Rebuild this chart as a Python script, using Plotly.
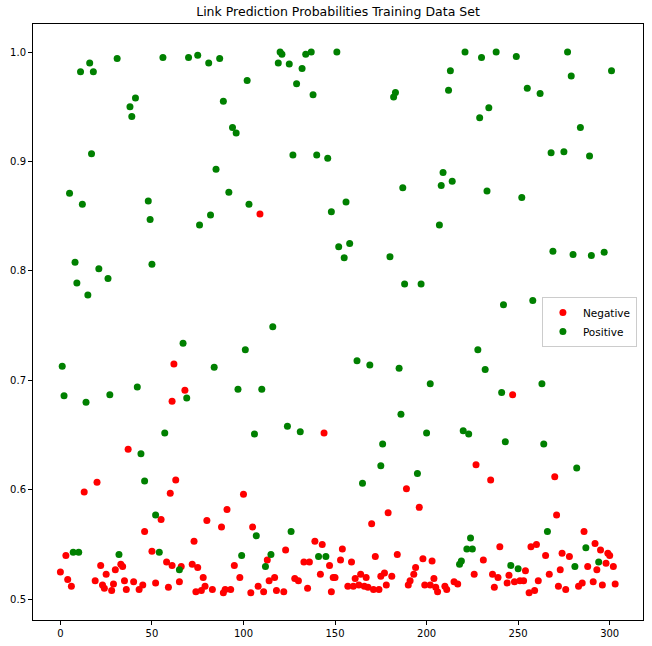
import plotly.graph_objects as go

# Negative (red) samples: index, predicted probability
neg_x = [62, 68, 61, 109, 144, 247,
         37, 20, 13, 63, 60, 55, 46, 50, 3, 0, 4, 6, 22, 25, 19, 23, 24, 28, 29, 30, 33, 34, 35, 36,
         40, 43, 45, 52, 58, 61, 59, 65, 66,
         100, 91, 80, 88, 105, 73, 123, 139, 143, 113, 133, 136, 72, 75, 95, 147, 142, 78, 98, 79,
         74, 77, 83, 89, 90, 93, 104, 108, 111, 114, 117, 118, 122, 128, 130, 135, 148, 149,
         226, 189, 196, 179, 170, 154, 153, 159, 172, 184, 198, 203, 150, 161, 164, 167, 157, 160,
         163, 166, 168, 171, 174, 175, 177, 181, 178, 194, 193, 191, 190, 204, 199, 202, 205, 206,
         210, 211, 215, 217, 227,
         235, 270, 271, 286, 240, 257, 260, 231, 265, 274, 278, 292, 295, 299, 300, 288, 293, 298,
         302, 236, 239, 245, 254, 267, 273, 237, 244, 248, 251, 253, 261, 256, 259, 272, 276, 283,
         285, 291, 296, 303]
neg_y = [0.715, 0.691, 0.681, 0.852, 0.652, 0.687,
         0.637, 0.607, 0.598, 0.609, 0.597, 0.573, 0.562, 0.544, 0.540, 0.525, 0.518, 0.512, 0.531,
         0.523, 0.517, 0.513, 0.510, 0.508, 0.514, 0.527, 0.532, 0.530, 0.517, 0.509,
         0.516, 0.509, 0.513, 0.515, 0.534, 0.531, 0.511, 0.516, 0.530,
         0.596, 0.582, 0.572, 0.566, 0.566, 0.553, 0.545, 0.553, 0.550, 0.536, 0.534, 0.534, 0.532,
         0.529, 0.531, 0.531, 0.523, 0.520, 0.520, 0.512,
         0.507, 0.508, 0.509, 0.506, 0.509, 0.509, 0.506, 0.512, 0.507, 0.517, 0.520, 0.508, 0.507,
         0.519, 0.517, 0.510, 0.507, 0.520,
         0.523, 0.601, 0.584, 0.579, 0.569, 0.546, 0.536, 0.534, 0.539, 0.541, 0.537, 0.535, 0.520,
         0.519, 0.523, 0.520, 0.512, 0.512,
         0.513, 0.512, 0.511, 0.509, 0.509, 0.521, 0.524, 0.521, 0.513, 0.529, 0.523, 0.517, 0.513,
         0.519, 0.513, 0.513, 0.511, 0.507,
         0.512, 0.509, 0.516, 0.514, 0.623,
         0.609, 0.612, 0.577, 0.562, 0.548, 0.548, 0.550, 0.536, 0.540, 0.542, 0.539, 0.551, 0.545,
         0.542, 0.540, 0.530, 0.527, 0.533,
         0.530, 0.523, 0.520, 0.522, 0.526, 0.523, 0.527, 0.511, 0.515, 0.516, 0.517, 0.517, 0.517,
         0.506, 0.508, 0.512, 0.509, 0.512,
         0.515, 0.516, 0.513, 0.514]

# Positive (green) samples: index, predicted probability
pos_x = [16, 11, 18, 31, 56, 41, 38, 39, 17, 5, 12, 48, 49, 8, 21, 9, 26, 15, 50, 67, 1, 2, 14,
         27, 42, 69, 57,
         70, 75, 81, 87, 120, 121, 119, 125, 134, 137, 132, 129, 138, 102, 89, 94, 96, 127, 140,
         146, 85, 92, 103, 82, 76, 148, 116, 101, 84, 97, 110, 106, 124, 131,
         151, 221, 213, 183, 182, 212, 209, 208, 214, 187, 156, 207, 158, 152, 155, 180, 188, 197,
         162, 169, 185, 202, 186, 200, 220, 223,
         230, 238, 249, 277, 301, 279, 255, 262, 234, 229, 284, 268, 275, 289, 233, 252, 269, 280,
         290, 297, 242, 258, 228, 232, 263, 241,
         44, 46, 52, 7, 10, 32, 54, 65,
         107, 126, 99, 115, 112, 141, 145,
         176, 175, 195, 165, 224, 222, 225, 219, 218,
         243, 264, 282, 266, 287, 246, 250, 281, 294]
pos_y = [0.990, 0.982, 0.982, 0.994, 0.995, 0.958, 0.950, 0.941, 0.907, 0.871, 0.861, 0.864, 0.847,
         0.808, 0.802, 0.789, 0.793, 0.778, 0.806, 0.734, 0.713, 0.686, 0.680, 0.687, 0.694, 0.684,
         0.652,
         0.995, 0.997, 0.990, 0.994, 1.000, 0.998, 0.990, 0.989, 0.998, 1.000, 0.985, 0.971, 0.961,
         0.974, 0.955, 0.931, 0.926, 0.906, 0.906, 0.903, 0.893, 0.872, 0.861, 0.851, 0.842, 0.854,
         0.749, 0.728, 0.712, 0.692, 0.692, 0.651, 0.658, 0.653,
         1.000, 1.000, 0.983, 0.963, 0.959, 0.965, 0.890, 0.878, 0.882, 0.876, 0.863, 0.842, 0.825,
         0.822, 0.812, 0.813, 0.788, 0.788, 0.718, 0.714, 0.711, 0.697, 0.669, 0.652, 0.654, 0.651,
         0.995, 1.000, 0.996, 1.000, 0.983, 0.978, 0.967, 0.962, 0.949, 0.940, 0.931, 0.908, 0.909,
         0.905, 0.873, 0.867, 0.818, 0.815, 0.814, 0.817, 0.769, 0.773, 0.728, 0.710, 0.697, 0.689,
         0.633, 0.608, 0.577, 0.543, 0.543, 0.541, 0.543, 0.527,
         0.558, 0.562, 0.540, 0.541, 0.530, 0.539, 0.539,
         0.642, 0.622, 0.615, 0.606, 0.556, 0.546, 0.546, 0.535, 0.532,
         0.644, 0.642, 0.620, 0.562, 0.547, 0.531, 0.528, 0.530, 0.534]

title_text = "Link Prediction Probabilities Training Data Set"
x_ticks = [0, 50, 100, 150, 200, 250, 300]
y_ticks = [0.5, 0.6, 0.7, 0.8, 0.9, 1.0]

FONT = "DejaVu Sans"

fig = go.Figure()
fig.add_trace(go.Scatter(x=neg_x, y=neg_y, mode="markers", name="Negative",
                         marker=dict(color="#ff0000", size=7, line=dict(width=0))))
fig.add_trace(go.Scatter(x=pos_x, y=pos_y, mode="markers", name="Positive",
                         marker=dict(color="#008000", size=7, line=dict(width=0))))

axis_common = dict(showgrid=False, zeroline=False, showline=True, mirror=True,
                   linecolor="black", linewidth=1, ticks="outside", ticklen=4,
                   tickwidth=1, tickcolor="black", automargin=False,
                   tickfont=dict(family=FONT, size=10, color="black"))

fig.update_layout(
    width=652, height=646,
    margin=dict(l=33, r=9, t=24, b=26),
    paper_bgcolor="white", plot_bgcolor="white",
    font=dict(family=FONT, color="black"),
    title=dict(text=title_text, x=0.5, xref="paper", xanchor="center",
               y=1 - 12 / 646, yref="container", yanchor="middle",
               font=dict(family=FONT, size=12.5, color="black")),
    xaxis=dict(range=[-14.96, 318.2], tickvals=x_ticks, **axis_common),
    yaxis=dict(range=[0.4811, 1.0256], tickvals=y_ticks, tickformat=".1f", **axis_common),
    legend=dict(x=0.99, xanchor="right", y=0.5, yanchor="middle",
                bgcolor="rgba(255,255,255,0.8)", bordercolor="#cccccc", borderwidth=1,
                font=dict(family=FONT, size=10.5, color="black"),
                itemwidth=30, tracegroupgap=0),
    showlegend=True,
)

fig.write_html("out.html",
               config={"displayModeBar": False},
               post_script="document.body.style.margin='0px';document.body.style.padding='0px';")
